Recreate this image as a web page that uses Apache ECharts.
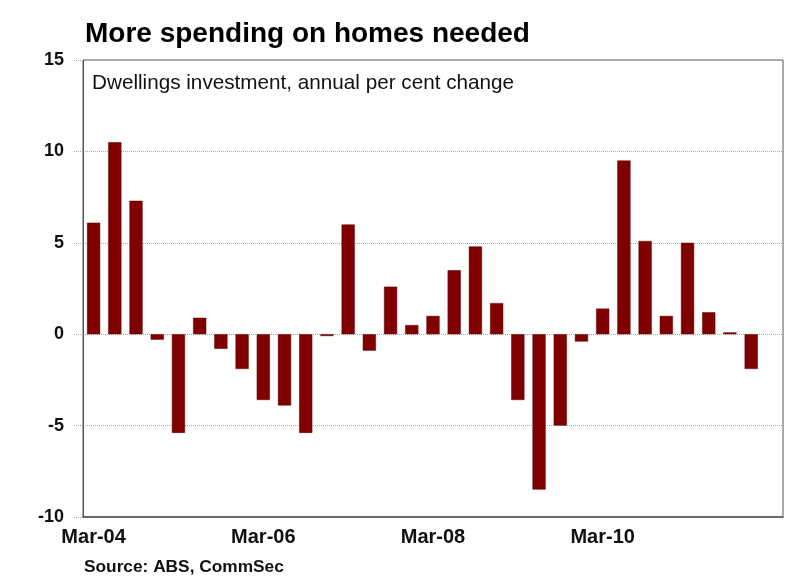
<!DOCTYPE html>
<html>
<head>
<meta charset="utf-8">
<script src="https://cdn.jsdelivr.net/npm/echarts@6/dist/echarts.min.js"></script>
<style>html,body{margin:0;padding:0;background:#fff}#c{width:800px;height:587px}</style>
</head>
<body>
<div id="c"></div>
<script>
var years = ['04','05','06','07','08','09','10','11','12'];
var quarters = ['Mar','Jun','Sep','Dec'];
var categories = [];
years.forEach(function(y){ quarters.forEach(function(q){ categories.push(q + '-' + y); }); });
categories = categories.slice(0, 33);
var values = [6.1, 10.5, 7.3, -0.3, -5.4, 0.9, -0.8, -1.9, -3.6, -3.9, -5.4, -0.1,
  6.0, -0.9, 2.6, 0.5, 1.0, 3.5, 4.8, 1.7, -3.6, -8.5, -5.0, -0.4,
  1.4, 9.5, 5.1, 1.0, 5.0, 1.2, 0.1, -1.9, null];
var yTicks = [-10, -5, 0, 5, 10, 15];
var FONT = 'Liberation Sans, Arial, sans-serif';

var chart = echarts.init(document.getElementById('c'));
chart.setOption({
  animation: false,
  backgroundColor: '#fff',
  title: [
    { text: 'More spending on homes needed', left: 85, top: 20, padding: 0,
      textStyle: { fontFamily: FONT, fontSize: 28, fontWeight: 'bold', color: '#000' } },
    { text: 'Dwellings investment, annual per cent change', left: 92, top: 73, padding: 0,
      textStyle: { fontFamily: FONT, fontSize: 20.7, fontWeight: 'normal', color: '#111' } },
    { text: 'Source: ABS, CommSec', left: 84, top: 559, padding: 0,
      textStyle: { fontFamily: FONT, fontSize: 17.3, fontWeight: 'bold', color: '#111' } }
  ],
  grid: { left: 83, right: 17, top: 60, bottom: 70, show: true, borderColor: '#555', borderWidth: 1 },
  xAxis: {
    type: 'category', data: categories, boundaryGap: true,
    axisLine: { onZero: false, lineStyle: { color: '#555', width: 1.5 } },
    axisTick: { inside: true, alignWithLabel: true, length: 4, interval: 0, lineStyle: { color: '#777' } },
    axisLabel: {
      interval: function (i) { return i % 8 === 0 && i < 32; },
      margin: 10, fontFamily: FONT, fontSize: 20, fontWeight: 'bold', color: '#111'
    },
    splitLine: { show: false }
  },
  yAxis: {
    type: 'value', min: yTicks[0], max: yTicks[yTicks.length - 1], interval: 5,
    axisLine: { show: true, lineStyle: { color: '#555' } },
    axisTick: { show: true, length: 10, lineStyle: { color: '#aaa', type: 'dotted' } },
    axisLabel: { margin: 19, fontFamily: FONT, fontSize: 18, fontWeight: 'bold', color: '#111' },
    splitLine: { show: true, lineStyle: { color: '#aaa', type: 'dotted', width: 1 } }
  },
  series: [{
    type: 'bar', data: values, barWidth: '62%',
    itemStyle: { color: '#800000', borderColor: '#5a0000', borderWidth: 0.5 }
  }]
});
</script>
</body>
</html>
